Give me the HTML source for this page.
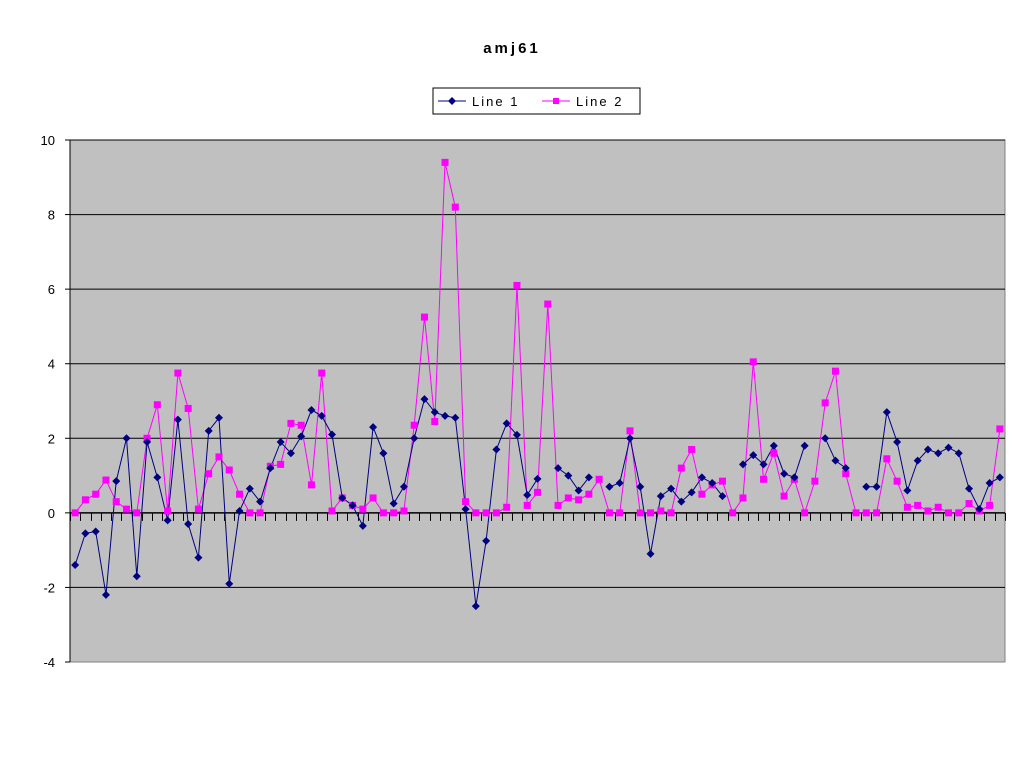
<!DOCTYPE html>
<html><head><meta charset="utf-8"><style>
html,body{margin:0;padding:0;background:#fff;}
svg{display:block;font-family:"Liberation Sans",Arial,sans-serif;}
</style></head><body>
<svg id="chart" width="1024" height="768">
<text x="512" y="53" text-anchor="middle" font-size="15" font-weight="bold" letter-spacing="3">amj61</text>
<g>
<rect x="433" y="88" width="207" height="26" fill="#fff" stroke="#000" stroke-width="1"/>
<line x1="438" y1="101" x2="466" y2="101" stroke="#000080" stroke-width="1"/>
<path d="M452 97 L456 101 L452 105 L448 101Z" fill="#000080"/>
<text x="472" y="106" font-size="13" letter-spacing="2">Line 1</text>
<line x1="542" y1="101" x2="570" y2="101" stroke="#ff00ff" stroke-width="1"/>
<rect x="553" y="98" width="6" height="6" fill="#ff00ff"/>
<text x="576" y="106" font-size="13" letter-spacing="2">Line 2</text>
</g>
<rect x="70" y="140" width="935" height="522" fill="#c0c0c0" stroke="#808080"/>
<g id="grid"></g><g id="axes"></g><g id="series"></g>
</svg>
<script>
const yTicks=[-4,-2,0,2,4,6,8,10];
const line1=[-1.4,-0.55,-0.5,-2.2,0.85,2.0,-1.7,1.9,0.95,-0.2,2.5,-0.3,-1.2,2.2,2.55,-1.9,0.05,0.65,0.3,1.2,1.9,1.6,2.05,2.76,2.6,2.1,0.4,0.2,-0.35,2.3,1.6,0.25,0.7,2.0,3.05,2.7,2.6,2.55,0.1,-2.5,-0.75,1.7,2.4,2.09,0.48,0.91,null,1.2,1.0,0.6,0.95,null,0.7,0.8,2.0,0.7,-1.1,0.45,0.65,0.3,0.55,0.95,0.8,0.45,null,1.3,1.55,1.3,1.8,1.05,0.95,1.8,null,2.0,1.4,1.2,null,0.7,0.7,2.7,1.9,0.6,1.4,1.7,1.6,1.75,1.6,0.65,0.1,0.8,0.95];
const line2=[0,0.35,0.5,0.88,0.3,0.1,0,2.0,2.9,0.05,3.75,2.8,0.1,1.05,1.5,1.15,0.5,0,0,1.25,1.3,2.4,2.35,0.75,3.75,0.05,0.4,0.2,0.1,0.4,0,0,0.05,2.35,5.25,2.45,9.4,8.2,0.3,0,0,0,0.15,6.1,0.2,0.55,5.6,0.2,0.4,0.35,0.5,0.9,0,0,2.2,0,0,0.05,0,1.2,1.7,0.5,0.75,0.85,0,0.4,4.05,0.9,1.6,0.45,0.9,0,0.85,2.95,3.8,1.05,0,0,0,1.45,0.85,0.15,0.2,0.05,0.15,0,0,0.25,0.05,0.2,2.25];
const NS="http://www.w3.org/2000/svg";
const X0=70,X1=1005,Y0=140,Y1=662,N=line1.length;
const cw=(X1-X0)/N;
const xS=i=>X0+cw*(i+0.5);
const yS=v=>Y1-(v+4)/14*(Y1-Y0);
function mk(t,a,p){const e=document.createElementNS(NS,t);for(const k in a)e.setAttribute(k,a[k]);p.appendChild(e);return e;}
const grid=document.getElementById('grid'),axes=document.getElementById('axes'),ser=document.getElementById('series');
yTicks.forEach(v=>{
 const y=yS(v);
 if(v!==-4&&v!==0){const g=mk('line',{x1:X0,x2:X1,y1:y,y2:y,stroke:'#000','stroke-width':1},grid);
 
 }
 mk('line',{x1:X0-5,x2:X0,y1:y,y2:y,stroke:'#000'},axes);
 const t=mk('text',{x:X0-15,y:y+5,'text-anchor':'end','font-size':13},axes);t.textContent=v;
 
 
});
const y0=yS(0);
const xa=mk('line',{x1:X0,x2:X1,y1:y0,y2:y0,stroke:'#000','stroke-width':1.5},axes);


const ya=mk('line',{x1:X0,x2:X0,y1:Y0,y2:Y1,stroke:'#000'},axes);


for(let i=0;i<=N;i++){const x=Math.round(X0+cw*i)+0.5;mk('line',{x1:x,x2:x,y1:y0,y2:y0+8,stroke:'#000'},axes);}
function drawLine(data,color,name){
 let d='',pen=false;
 data.forEach((v,i)=>{if(v===null){pen=false;return;}d+=(pen?'L':'M')+xS(i).toFixed(1)+' '+yS(v).toFixed(1);pen=true;});
 const p=mk('path',{d:d,fill:'none',stroke:color,'stroke-width':1},ser);
 
 
}
drawLine(line2,'#ff00ff','line-2');
drawLine(line1,'#000080','line-1');
line2.forEach((v,i)=>{if(v===null)return;const x=xS(i),y=yS(v);
 const m=mk('rect',{x:x-3.5,y:y-3.5,width:7,height:7,fill:'#ff00ff'},ser);
 
 });
line1.forEach((v,i)=>{if(v===null)return;const x=xS(i),y=yS(v);
 const m=mk('path',{d:`M${x} ${y-4}L${x+4} ${y}L${x} ${y+4}L${x-4} ${y}Z`,fill:'#000080'},ser);
 
 });
</script>
</body></html>
